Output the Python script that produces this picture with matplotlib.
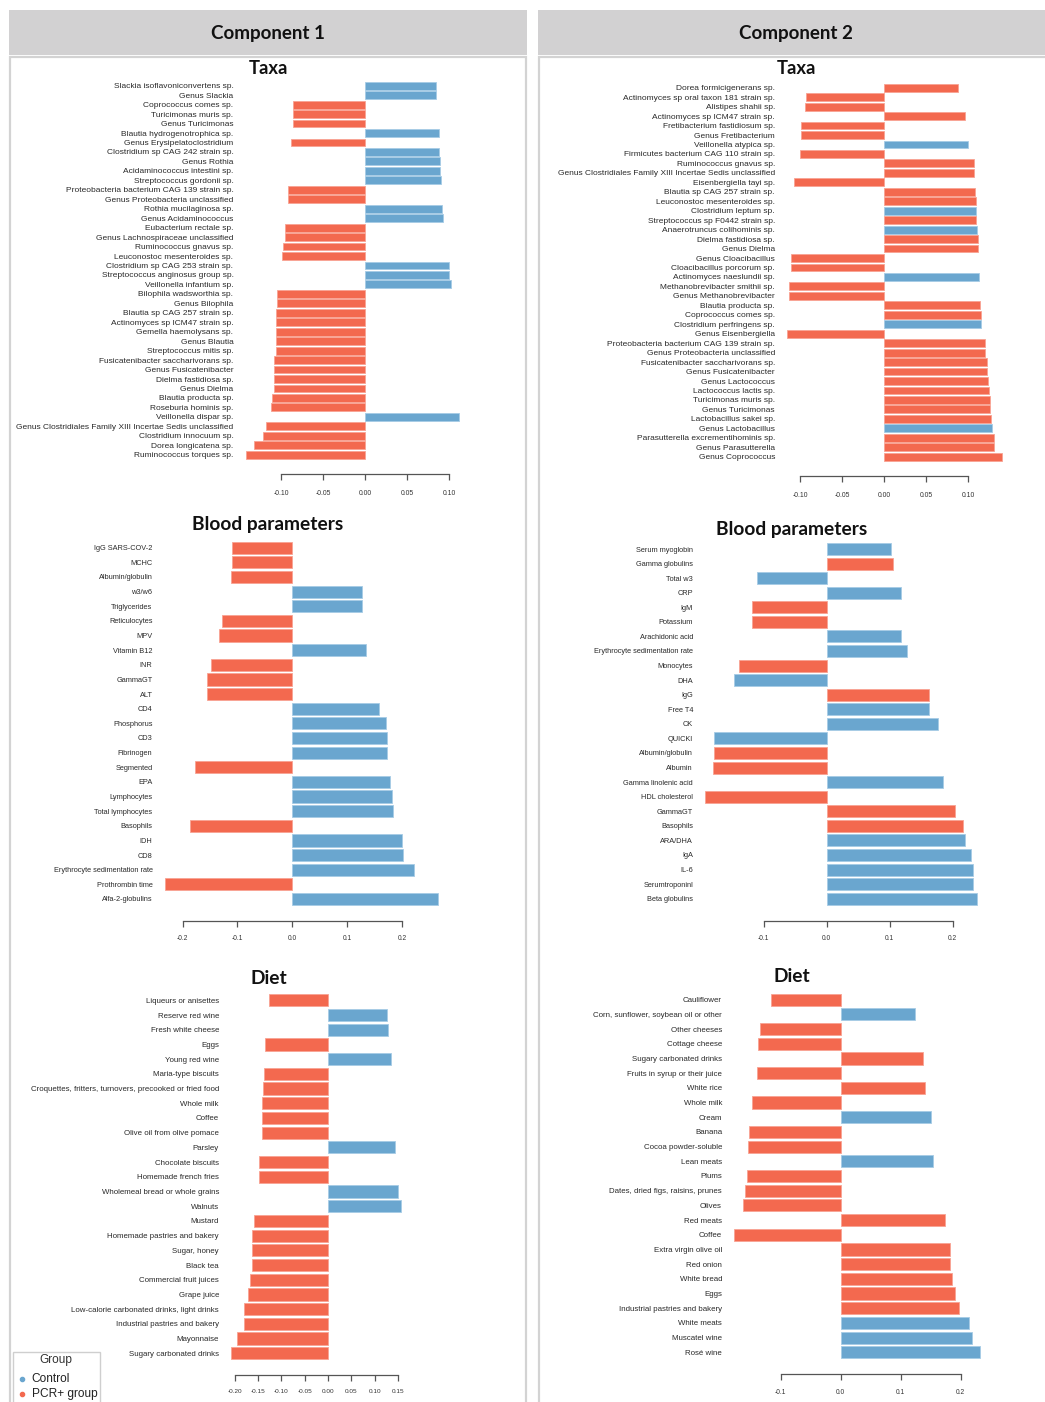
import matplotlib
matplotlib.use("Agg")
import matplotlib.pyplot as plt
from matplotlib.patches import Rectangle
from matplotlib.lines import Line2D

# ---------------------------------------------------------------- data
# group codes: C = Control, P = PCR+ group

taxa_c1_names = [
    "Slackia isoflavoniconvertens sp.", "Genus Slackia", "Coprococcus comes sp.",
    "Turicimonas muris sp.", "Genus Turicimonas", "Blautia hydrogenotrophica sp.",
    "Genus Erysipelatoclostridium", "Clostridium sp CAG 242 strain sp.", "Genus Rothia",
    "Acidaminococcus intestini sp.", "Streptococcus gordonii sp.",
    "Proteobacteria bacterium CAG 139 strain sp.", "Genus Proteobacteria unclassified",
    "Rothia mucilaginosa sp.", "Genus Acidaminococcus", "Eubacterium rectale sp.",
    "Genus Lachnospiraceae unclassified", "Ruminococcus gnavus sp.",
    "Leuconostoc mesenteroides sp.", "Clostridium sp CAG 253 strain sp.",
    "Streptococcus anginosus group sp.", "Veillonella infantium sp.",
    "Bilophila wadsworthia sp.", "Genus Bilophila", "Blautia sp CAG 257 strain sp.",
    "Actinomyces sp ICM47 strain sp.", "Gemella haemolysans sp.", "Genus Blautia",
    "Streptococcus mitis sp.", "Fusicatenibacter saccharivorans sp.",
    "Genus Fusicatenibacter", "Dielma fastidiosa sp.", "Genus Dielma",
    "Blautia producta sp.", "Roseburia hominis sp.", "Veillonella dispar sp.",
    "Genus Clostridiales Family XIII Incertae Sedis unclassified",
    "Clostridium innocuum sp.", "Dorea longicatena sp.", "Ruminococcus torques sp.",
]
taxa_c1_values = [
    0.0845, 0.0845, -0.0853, -0.0861, -0.0861, 0.0877, -0.0877, 0.0885, 0.0893,
    0.0893, 0.0901, -0.0917, -0.0917, 0.0917, 0.0925, -0.0952, -0.0952, -0.0972,
    -0.0992, 0.1004, 0.1004, 0.1020, -0.1052, -0.1052, -0.1056, -0.1060, -0.1060,
    -0.1060, -0.1060, -0.1083, -0.1083, -0.1083, -0.1083, -0.1103, -0.1123, 0.1124,
    -0.1183, -0.1210, -0.1317, -0.1420,
]
taxa_c1_groups = list("CCPPPCPCCCCPPCCPPPPCCCPPPPPPPPPPPPPCPPPP")

taxa_c2_names = [
    "Dorea formicigenerans sp.", "Actinomyces sp oral taxon 181 strain sp.",
    "Alistipes shahii sp.", "Actinomyces sp ICM47 strain sp.",
    "Fretibacterium fastidiosum sp.", "Genus Fretibacterium", "Veillonella atypica sp.",
    "Firmicutes bacterium CAG 110 strain sp.", "Ruminococcus gnavus sp.",
    "Genus Clostridiales Family XIII Incertae Sedis unclassified",
    "Eisenbergiella tayi sp.", "Blautia sp CAG 257 strain sp.",
    "Leuconostoc mesenteroides sp.", "Clostridium leptum sp.",
    "Streptococcus sp F0442 strain sp.", "Anaerotruncus colihominis sp.",
    "Dielma fastidiosa sp.", "Genus Dielma", "Genus Cloacibacillus",
    "Cloacibacillus porcorum sp.", "Actinomyces naeslundii sp.",
    "Methanobrevibacter smithii sp.", "Genus Methanobrevibacter", "Blautia producta sp.",
    "Coprococcus comes sp.", "Clostridium perfringens sp.", "Genus Eisenbergiella",
    "Proteobacteria bacterium CAG 139 strain sp.", "Genus Proteobacteria unclassified",
    "Fusicatenibacter saccharivorans sp.", "Genus Fusicatenibacter", "Genus Lactococcus",
    "Lactococcus lactis sp.", "Turicimonas muris sp.", "Genus Turicimonas",
    "Lactobacillus sakei sp.", "Genus Lactobacillus",
    "Parasutterella excrementihominis sp.", "Genus Parasutterella", "Genus Coprococcus",
]
taxa_c2_values = [
    0.0885, -0.0925, -0.0937, 0.0960, -0.0988, -0.0988, 0.1000, -0.1004, 0.1067,
    0.1067, -0.1071, 0.1083, 0.1091, 0.1099, 0.1099, 0.1107, 0.1115, 0.1115,
    -0.1111, -0.1111, 0.1131, -0.1135, -0.1135, 0.1147, 0.1151, 0.1151, -0.1151,
    0.1198, 0.1198, 0.1222, 0.1222, 0.1238, 0.1246, 0.1262, 0.1262, 0.1278, 0.1286,
    0.1313, 0.1313, 0.1401,
]
taxa_c2_groups = list("PPPPPPCPPPPPPCPCPPPPCPPPPCPPPPPPPPPPCPPP")

blood_c1_names = [
    "IgG SARS-COV-2", "MCHC", "Albumin/globulin", "w3/w6", "Triglycerides",
    "Reticulocytes", "MPV", "Vitamin B12", "INR", "GammaGT", "ALT", "CD4",
    "Phosphorus", "CD3", "Fibrinogen", "Segmented", "EPA", "Lymphocytes",
    "Total lymphocytes", "Basophils", "IDH", "CD8", "Erythrocyte sedimentation rate",
    "Prothrombin time", "Alfa-2-globulins",
]
blood_c1_values = [
    -0.1094, -0.1106, -0.1125, 0.1277, 0.1277, -0.1289, -0.1331, 0.1350, -0.1489,
    -0.1550, -0.1562, 0.1574, 0.1708, 0.1720, 0.1733, -0.1775, 0.1775, 0.1818,
    0.1830, -0.1866, 0.2000, 0.2024, 0.2219, -0.2322, 0.2663,
]
blood_c1_groups = list("PPPCCPPCPPPCCCCPCCCPCCCPC")

blood_c2_names = [
    "Serum myoglobin", "Gamma globulins", "Total w3", "CRP", "IgM", "Potassium",
    "Arachidonic acid", "Erythrocyte sedimentation rate", "Monocytes", "DHA", "IgG",
    "Free T4", "CK", "QUICKI", "Albumin/globulin", "Albumin", "Gamma linolenic acid",
    "HDL cholesterol", "GammaGT", "Basophils", "ARA/DHA", "IgA", "IL-6",
    "Serumtroponinl", "Beta globulins",
]
blood_c2_values = [
    0.1026, 0.1048, -0.1106, 0.1180, -0.1185, -0.1185, 0.1185, 0.1275, -0.1397,
    -0.1471, 0.1619, 0.1624, 0.1772, -0.1794, -0.1794, -0.1804, 0.1841, -0.1931,
    0.2042, 0.2159, 0.2196, 0.2291, 0.2323, 0.2323, 0.2392,
]
blood_c2_groups = list("CPCCPPCCPCPCCCPPCPPPCCCCC")

diet_c1_names = [
    "Liqueurs or anisettes", "Reserve red wine", "Fresh white cheese", "Eggs",
    "Young red wine", "Maria-type biscuits",
    "Croquettes, fritters, turnovers, precooked or fried food", "Whole milk", "Coffee",
    "Olive oil from olive pomace", "Parsley", "Chocolate biscuits",
    "Homemade french fries", "Wholemeal bread or whole grains", "Walnuts", "Mustard",
    "Homemade pastries and bakery", "Sugar, honey", "Black tea",
    "Commercial fruit juices", "Grape juice",
    "Low-calorie carbonated drinks, light drinks", "Industrial pastries and bakery",
    "Mayonnaise", "Sugary carbonated drinks",
]
diet_c1_values = [
    -0.1274, 0.1274, 0.1288, -0.1346, 0.1360, -0.1382, -0.1396, -0.1410, -0.1410,
    -0.1424, 0.1439, -0.1475, -0.1489, 0.1510, 0.1575, -0.1582, -0.1625, -0.1625,
    -0.1625, -0.1668, -0.1711, -0.1811, -0.1811, -0.1961, -0.2083,
]
diet_c1_groups = list("PCCPCPPPPPCPPCCPPPPPPPPPP")

diet_c2_names = [
    "Cauliflower", "Corn, sunflower, soybean oil or other", "Other cheeses",
    "Cottage cheese", "Sugary carbonated drinks", "Fruits in syrup or their juice",
    "White rice", "Whole milk", "Cream", "Banana", "Cocoa powder-soluble",
    "Lean meats", "Plums", "Dates, dried figs, raisins, prunes", "Olives",
    "Red meats", "Coffee", "Extra virgin olive oil", "Red onion", "White bread",
    "Eggs", "Industrial pastries and bakery", "White meats", "Muscatel wine",
    "Rosé wine",
]
diet_c2_values = [
    -0.1156, 0.1244, -0.1344, -0.1378, 0.1372, -0.1394, 0.1406, -0.1478, 0.1506,
    -0.1522, -0.1539, 0.1539, -0.1561, -0.1594, -0.1633, 0.1744, -0.1778, 0.1817,
    0.1828, 0.1861, 0.1906, 0.1967, 0.2144, 0.2194, 0.2328,
]
diet_c2_groups = list("PCPPPPPPCPPCPPPPPPPPPPCCC")

group_labels = {"C": "Control", "P": "PCR+ group"}
group_colors = {"C": "#6aa6cf", "P": "#f3694f"}
group_edges = {"C": "#a6cbe5", "P": "#f8a393"}

# ---------------------------------------------------------------- figure
W, H, DPI = 1045, 1402, 100
PT = 72 / DPI          # points per pixel
fig = plt.figure(figsize=(W / DPI, H / DPI), dpi=DPI)
fig.patch.set_facecolor("white")

LABEL_FONT = "Liberation Sans"
TITLE_FONT = "Lato"


def fx(px):
    return px / W


def fy(py):
    return 1 - py / H


def frame(x0, x1, heading, cx):
    """Grey heading strip plus the thin-bordered body of one component column."""
    fig.patches.append(Rectangle((fx(x0), fy(55)), (x1 - x0) / W, 45 / H,
                                 transform=fig.transFigure, facecolor="#d2d1d2",
                                 edgecolor="none", zorder=-2))
    fig.patches.append(Rectangle((fx(x0 + 1), fy(H + 5)), (x1 - x0 - 2) / W, (H + 5 - 57) / H,
                                 transform=fig.transFigure, facecolor="white",
                                 edgecolor="#d3d3d3", linewidth=1.6, zorder=-2))
    fig.text(fx(cx), fy(34), heading, ha="center", va="center", fontsize=13.5,
             fontweight="bold", family=TITLE_FONT, color="#111111")


frame(9, 527, "Component 1", 268)
frame(538, 1060, "Component 2", 796)


def loading_plot(names, values, groups, title, title_xy, zero_px, ppu,
                 y_first, y_last, y_axis, y_ticklabel, label_end, xlim,
                 ticks, ticklabels, label_fs, tick_fs, title_fs):
    n = len(names)
    step = (y_last - y_first) / (n - 1)
    left = zero_px + xlim[0] * ppu
    right = zero_px + xlim[1] * ppu
    top = y_first - step
    ax = fig.add_axes([fx(left), fy(y_axis), (right - left) / W, (y_axis - top) / H])
    ax.set_xlim(*xlim)
    ax.set_ylim((y_axis - y_first) / step, -1)
    ax.patch.set_alpha(0)

    ypos = list(range(n))
    ax.barh(ypos, values, height=0.83,
            color=[group_colors[g] for g in groups],
            edgecolor=[group_edges[g] for g in groups], linewidth=0.6)

    ax.set_yticks(ypos)
    ax.set_yticklabels(names, fontsize=label_fs, family=LABEL_FONT, color="#2a2a2a")
    ax.tick_params(axis="y", length=0, pad=(left - label_end) * PT)

    for side in ("top", "right", "left"):
        ax.spines[side].set_visible(False)
    ax.spines["bottom"].set_bounds(ticks[0], ticks[-1])
    ax.spines["bottom"].set_color("#555555")
    ax.spines["bottom"].set_linewidth(0.9)
    ax.set_xticks(ticks)
    ax.set_xticklabels(ticklabels, fontsize=tick_fs, family=LABEL_FONT, color="#333333")
    tick_len = 6
    ax.tick_params(axis="x", direction="out", length=tick_len * PT, width=0.9,
                   color="#555555",
                   pad=max((y_ticklabel - y_axis) - tick_len - 4.0, 0) * PT)

    fig.text(fx(title_xy[0]), fy(title_xy[1]), title, ha="center", va="center",
             fontsize=title_fs, fontweight="bold", family=TITLE_FONT, color="#111111")
    return ax


taxa_ticks = [-0.10, -0.05, 0.00, 0.05, 0.10]
taxa_ticklabels = ["-0.10", "-0.05", "0.00", "0.05", "0.10"]

loading_plot(taxa_c1_names, taxa_c1_values, taxa_c1_groups, "Taxa", (268, 68),
             zero_px=365, ppu=840, y_first=85.7, y_last=454.7, y_axis=474.3,
             y_ticklabel=494, label_end=233.5, xlim=(-0.15, 0.125),
             ticks=taxa_ticks, ticklabels=taxa_ticklabels, label_fs=6.0, tick_fs=4.9,
             title_fs=13.3)

loading_plot(taxa_c2_names, taxa_c2_values, taxa_c2_groups, "Taxa", (796.5, 68),
             zero_px=884, ppu=840, y_first=87.7, y_last=456.7, y_axis=475.7,
             y_ticklabel=495.7, label_end=775, xlim=(-0.125, 0.15),
             ticks=taxa_ticks, ticklabels=taxa_ticklabels, label_fs=6.0, tick_fs=4.9,
             title_fs=13.3)

loading_plot(blood_c1_names, blood_c1_values, blood_c1_groups, "Blood parameters", (268, 525),
             zero_px=292.3, ppu=548.3, y_first=547.7, y_last=899, y_axis=920.7,
             y_ticklabel=939, label_end=152.5, xlim=(-0.25, 0.28),
             ticks=[-0.2, -0.1, 0.0, 0.1, 0.2],
             ticklabels=["-0.2", "-0.1", "0.0", "0.1", "0.2"], label_fs=5.3, tick_fs=4.8,
             title_fs=13.8)

loading_plot(blood_c2_names, blood_c2_values, blood_c2_groups, "Blood parameters", (791.7, 529),
             zero_px=826.7, ppu=630, y_first=549, y_last=898.7, y_axis=920.7,
             y_ticklabel=938.7, label_end=693, xlim=(-0.205, 0.25),
             ticks=[-0.1, 0.0, 0.1, 0.2],
             ticklabels=["-0.1", "0.0", "0.1", "0.2"], label_fs=5.3, tick_fs=4.8,
             title_fs=13.8)

loading_plot(diet_c1_names, diet_c1_values, diet_c1_groups, "Diet", (268.5, 978),
             zero_px=328, ppu=465.7, y_first=1000.3, y_last=1353.3, y_axis=1375,
             y_ticklabel=1393.3, label_end=219, xlim=(-0.22, 0.17),
             ticks=[-0.20, -0.15, -0.10, -0.05, 0.00, 0.05, 0.10, 0.15],
             ticklabels=["-0.20", "-0.15", "-0.10", "-0.05", "0.00", "0.05", "0.10", "0.15"],
             label_fs=5.65, tick_fs=4.6, title_fs=13.8)

loading_plot(diet_c2_names, diet_c2_values, diet_c2_groups, "Diet", (791.7, 976),
             zero_px=840.7, ppu=600, y_first=999.7, y_last=1352.3, y_axis=1374.3,
             y_ticklabel=1392.7, label_end=722, xlim=(-0.19, 0.245),
             ticks=[-0.1, 0.0, 0.1, 0.2],
             ticklabels=["-0.1", "0.0", "0.1", "0.2"], label_fs=5.7, tick_fs=4.8,
             title_fs=13.8)

# ---------------------------------------------------------------- legend
fig.patches.append(Rectangle((fx(13), fy(H + 5)), 87 / W, (H + 5 - 1352) / H,
                             transform=fig.transFigure, facecolor="white",
                             edgecolor="#cfcfcf", linewidth=1.0, zorder=2))
fig.text(fx(56), fy(1360), "Group", ha="center", va="center", fontsize=8.6,
         family=LABEL_FONT, color="#333333", zorder=3)
for code, y in (("C", 1379), ("P", 1393.5)):
    fig.lines.append(Line2D([fx(21.7)], [fy(y)], transform=fig.transFigure,
                            marker="o", markersize=3, linestyle="none",
                            color=group_colors[code], zorder=3))
    fig.text(fx(31.5), fy(y), group_labels[code], ha="left", va="center",
             fontsize=8.6, family=LABEL_FONT, color="#222222", zorder=3)

fig.savefig("out.png", dpi=DPI)
